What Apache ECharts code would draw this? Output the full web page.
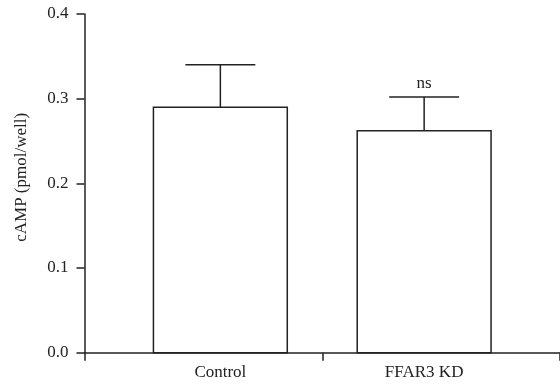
<!DOCTYPE html>
<html>
<head>
<meta charset="utf-8">
<script src="https://cdn.jsdelivr.net/npm/echarts@6/dist/echarts.min.js"></script>
<style>
html,body{margin:0;padding:0;background:#fff;}
#c{width:560px;height:388px;}
</style>
</head>
<body>
<div id="c"></div>
<script>
const categories = ['Control', 'FFAR3 KD'];
const means = [0.29, 0.262];
const errors = [0.05, 0.04];
const annotations = ['', 'ns'];
const yTicks = [0, 0.1, 0.2, 0.3, 0.4];

const FONT = 'Liberation Serif';
const INK = '#222';

const chart = echarts.init(document.getElementById('c'), null, {renderer: 'canvas'});
const data = categories.map((c, i) => [i, means[i], errors[i]]);

chart.setOption({
  backgroundColor: '#fff',
  animation: false,
  grid: {left: 84.5, right: -1.5, top: 14, bottom: 35.3},
  xAxis: {
    type: 'category',
    data: categories,
    axisLine: {lineStyle: {color: INK, width: 1.5}},
    axisTick: {show: true, length: 8, lineStyle: {color: INK, width: 1.5}},
    axisLabel: {show: false},
    splitLine: {show: false}
  },
  yAxis: {
    type: 'value',
    min: yTicks[0],
    max: yTicks[yTicks.length - 1],
    interval: 0.1,
    name: 'cAMP (pmol/well)',
    nameLocation: 'middle',
    nameRotate: 90,
    nameGap: 54,
    nameTextStyle: {fontFamily: FONT, fontSize: 17, color: INK, padding: [0, 0, 0, 12]},
    axisLine: {show: true, lineStyle: {color: INK, width: 1.5}},
    axisTick: {show: true, length: 8, lineStyle: {color: INK, width: 1.5}},
    axisLabel: {margin: 16, fontFamily: FONT, fontSize: 17, color: INK,
      formatter: v => v.toFixed(1)},
    splitLine: {show: false}
  },
  series: [{
    type: 'custom',
    clip: false,
    data: data,
    renderItem: function (params, api) {
      const i = api.value(0);
      const m = api.value(1);
      const e = api.value(2);
      const band = api.size([1, 0])[0];
      const shift = band * 17 / 238 * (i === 0 ? 1 : -1);
      const bw = band * 134 / 238;
      const capW = band * 70 / 238;
      const base = api.coord([i, 0]);
      const top = api.coord([i, m]);
      const errTop = api.coord([i, m + e]);
      const cx = base[0] + shift;
      const lineStyle = {stroke: INK, lineWidth: 1.5, fill: null};
      const children = [
        {type: 'line', shape: {x1: cx, y1: top[1], x2: cx, y2: errTop[1]}, style: lineStyle},
        {type: 'line', shape: {x1: cx - capW / 2, y1: errTop[1], x2: cx + capW / 2, y2: errTop[1]}, style: lineStyle},
        {type: 'rect', shape: {x: cx - bw / 2, y: top[1], width: bw, height: base[1] - top[1]},
          style: {fill: '#fff', stroke: INK, lineWidth: 1.5}},
        {type: 'text', style: {text: categories[i], x: cx, y: base[1] + 11,
          textAlign: 'center', textVerticalAlign: 'top', font: '17px "' + FONT + '"', fill: INK}}
      ];
      if (annotations[i]) {
        children.push({type: 'text', style: {text: annotations[i], x: cx, y: errTop[1] - 5,
          textAlign: 'center', textVerticalAlign: 'bottom', font: '17px "' + FONT + '"', fill: INK}});
      }
      return {type: 'group', children: children};
    }
  }]
});
</script>
</body>
</html>
